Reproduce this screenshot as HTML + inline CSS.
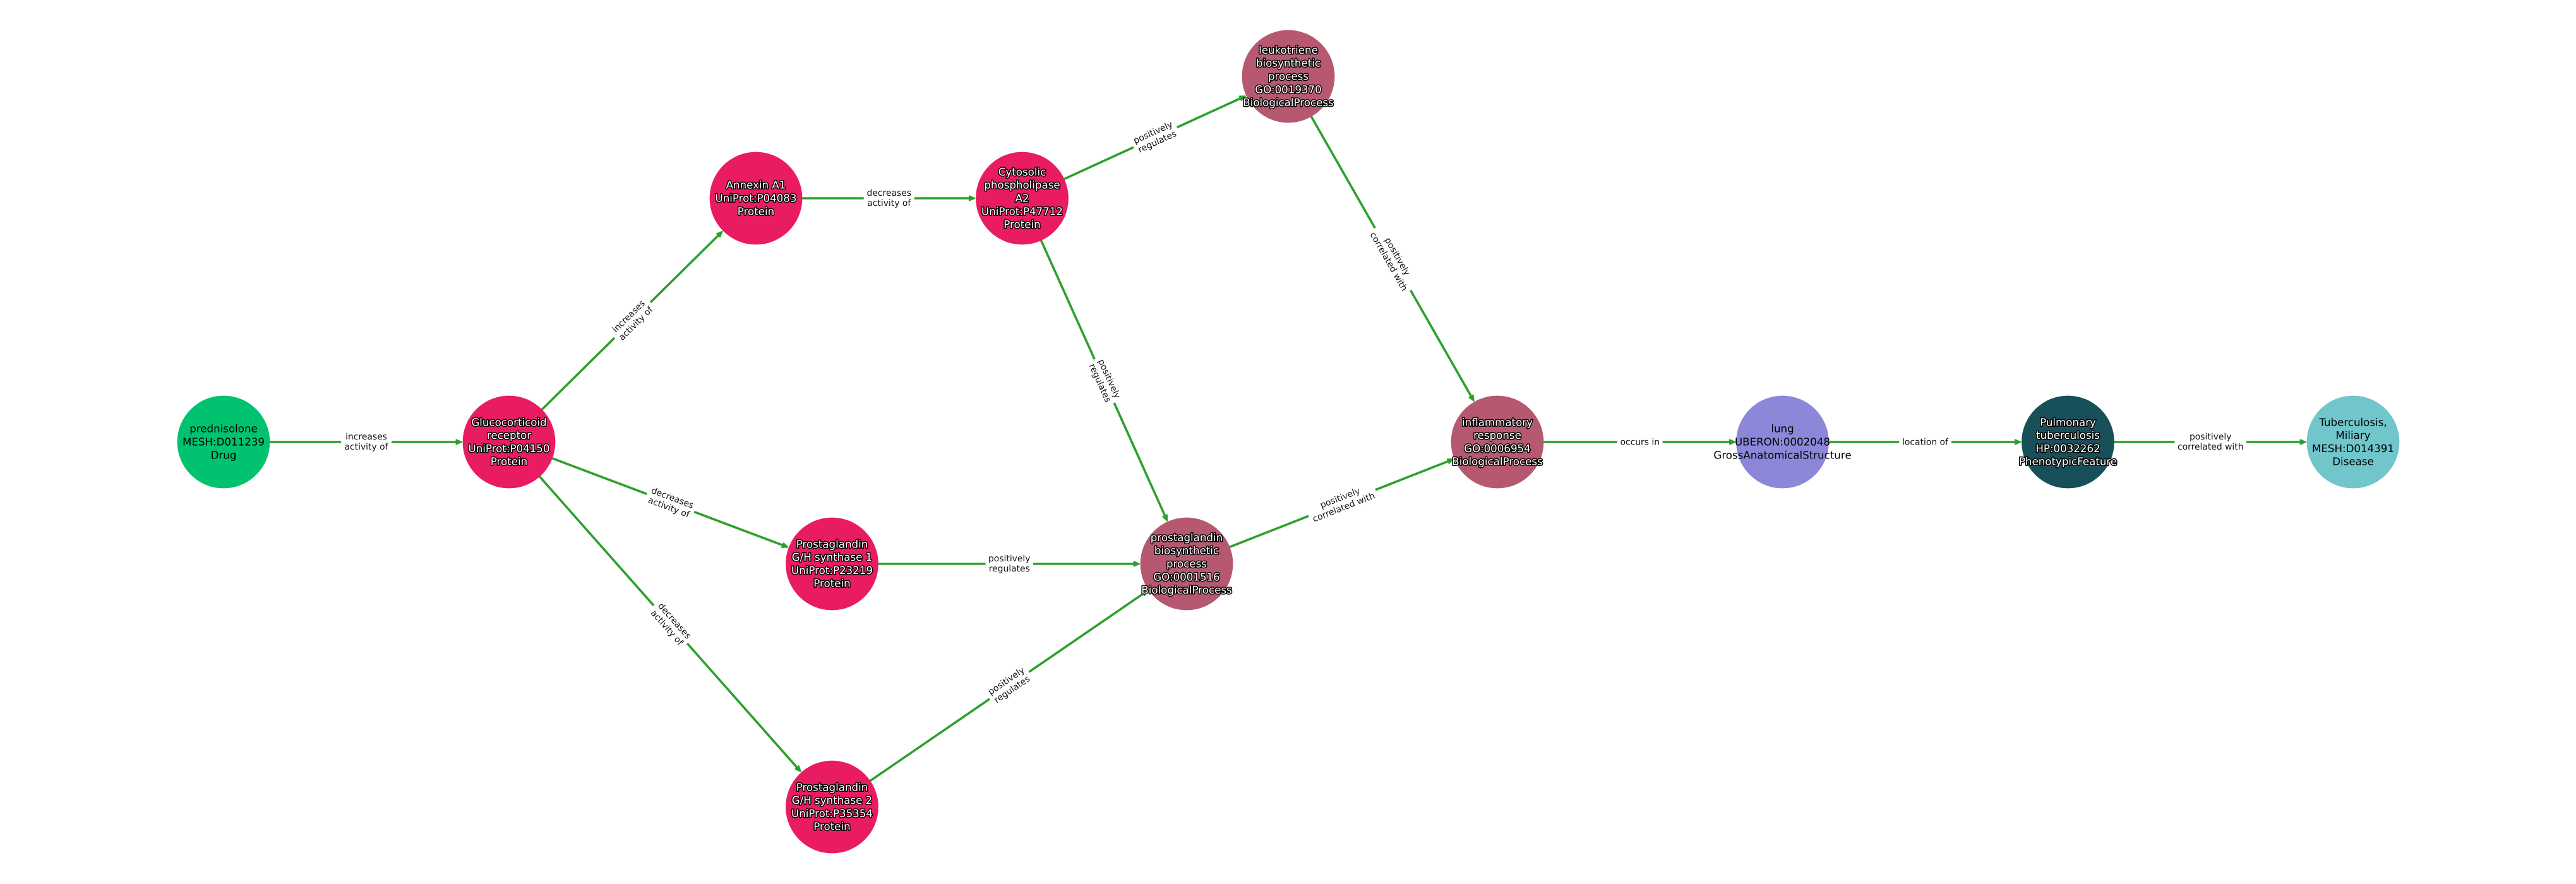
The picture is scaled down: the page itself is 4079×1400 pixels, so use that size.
<!DOCTYPE html>
<html>
<head>
<meta charset="utf-8">
<style>
html,body{margin:0;padding:0;background:#fff;width:4079px;height:1400px;overflow:hidden}
svg{display:block}
text{font-family:"DejaVu Sans","Liberation Sans",sans-serif;text-anchor:middle;text-rendering:geometricPrecision}
.e line{stroke:#2ca02c;stroke-width:3.6}
.e path{fill:#2ca02c;stroke:#2ca02c;stroke-width:2;stroke-linejoin:round}
.e rect{fill:#fff}
.e text{font-size:13.89px;fill:#111}
.n{font-size:16.67px;fill:#000}
.w{font-size:16.67px;fill:#fff;stroke:#000;stroke-width:3;paint-order:stroke;stroke-linejoin:round}
</style>
</head>
<body>
<svg width="4079" height="1400" viewBox="0 0 4079 1400" xmlns="http://www.w3.org/2000/svg">
<rect width="4079" height="1400" fill="#fff"/>

<!-- edges -->
<g class="e" transform="translate(354,700)"><line x1="0" x2="372" y1="0" y2="0"/><path transform="translate(378)" d="M-9.5 -3.6L-1 0L-9.5 3.6Z"/><g transform="translate(226)"><rect x="-40" y="-22" width="80" height="44"/><text y="-4">increases</text><text y="12">activity of</text></g></g>

<g class="e" transform="translate(806,700) rotate(-44.63)"><line x1="0" x2="469.4" y1="0" y2="0"/><path transform="translate(475.4)" d="M-9.5 -3.6L-1 0L-9.5 3.6Z"/><g transform="translate(274.7)"><rect x="-40" y="-22" width="80" height="44"/><text y="-4">increases</text><text y="12">activity of</text></g></g>

<g class="e" transform="translate(806,700) rotate(20.67)"><line x1="0" x2="466.7" y1="0" y2="0"/><path transform="translate(472.7)" d="M-9.5 -3.6L-1 0L-9.5 3.6Z"/><g transform="translate(273.35)"><rect x="-40" y="-22" width="80" height="44"/><text y="-4">decreases</text><text y="12">activity of</text></g></g>

<g class="e" transform="translate(806,700) rotate(48.5)"><line x1="0" x2="691.8" y1="0" y2="0"/><path transform="translate(697.8)" d="M-9.5 -3.6L-1 0L-9.5 3.6Z"/><g transform="translate(385.9)"><rect x="-40" y="-22" width="80" height="44"/><text y="-4">decreases</text><text y="12">activity of</text></g></g>

<g class="e" transform="translate(1197,314)"><line x1="0" x2="341.5" y1="0" y2="0"/><path transform="translate(347.5)" d="M-9.5 -3.6L-1 0L-9.5 3.6Z"/><g transform="translate(210.75)"><rect x="-40" y="-22" width="80" height="44"/><text y="-4">decreases</text><text y="12">activity of</text></g></g>

<g class="e" transform="translate(1618.5,314) rotate(-24.6)"><line x1="0" x2="383.6" y1="0" y2="0"/><path transform="translate(389.6)" d="M-9.5 -3.6L-1 0L-9.5 3.6Z"/><g transform="translate(231.8)"><rect x="-37.8" y="-22" width="75.6" height="44"/><text y="-4">positively</text><text y="12">regulates</text></g></g>

<g class="e" transform="translate(1618.5,314) rotate(65.78)"><line x1="0" x2="554.9" y1="0" y2="0"/><path transform="translate(560.9)" d="M-9.5 -3.6L-1 0L-9.5 3.6Z"/><g transform="translate(317.45)"><rect x="-37.8" y="-22" width="75.6" height="44"/><text y="-4">positively</text><text y="12">regulates</text></g></g>

<g class="e" transform="translate(2040,121) rotate(60.25)"><line x1="0" x2="586.9" y1="0" y2="0"/><path transform="translate(592.9)" d="M-9.5 -3.6L-1 0L-9.5 3.6Z"/><g transform="translate(333.45)"><rect x="-56.8" y="-22" width="113.6" height="44"/><text y="-4">positively</text><text y="12">correlated with</text></g></g>

<g class="e" transform="translate(1317.5,893)"><line x1="0" x2="481.5" y1="0" y2="0"/><path transform="translate(487.5)" d="M-9.5 -3.6L-1 0L-9.5 3.6Z"/><g transform="translate(280.75)"><rect x="-37.8" y="-22" width="75.6" height="44"/><text y="-4">positively</text><text y="12">regulates</text></g></g>

<g class="e" transform="translate(1317.5,1278) rotate(-34.43)"><line x1="0" x2="600.8" y1="0" y2="0"/><path transform="translate(606.8)" d="M-9.5 -3.6L-1 0L-9.5 3.6Z"/><g transform="translate(340.4)"><rect x="-37.8" y="-22" width="75.6" height="44"/><text y="-4">positively</text><text y="12">regulates</text></g></g>

<g class="e" transform="translate(1879,893) rotate(-21.42)"><line x1="0" x2="448.5" y1="0" y2="0"/><path transform="translate(454.5)" d="M-9.5 -3.6L-1 0L-9.5 3.6Z"/><g transform="translate(264.25)"><rect x="-56.8" y="-22" width="113.6" height="44"/><text y="-4">positively</text><text y="12">correlated with</text></g></g>

<g class="e" transform="translate(2371,700)"><line x1="0" x2="371.5" y1="0" y2="0"/><path transform="translate(377.5)" d="M-9.5 -3.6L-1 0L-9.5 3.6Z"/><g transform="translate(225.75)"><rect x="-35.9" y="-14" width="71.8" height="28"/><text y="4.5">occurs in</text></g></g>

<g class="e" transform="translate(2822.5,700)"><line x1="0" x2="372" y1="0" y2="0"/><path transform="translate(378)" d="M-9.5 -3.6L-1 0L-9.5 3.6Z"/><g transform="translate(226)"><rect x="-41.5" y="-14" width="83" height="28"/><text y="4.5">location of</text></g></g>

<g class="e" transform="translate(3274.5,700)"><line x1="0" x2="371.5" y1="0" y2="0"/><path transform="translate(377.5)" d="M-9.5 -3.6L-1 0L-9.5 3.6Z"/><g transform="translate(225.75)"><rect x="-56.8" y="-22" width="113.6" height="44"/><text y="-4">positively</text><text y="12">correlated with</text></g></g>

<!-- nodes -->
<circle cx="354" cy="700" r="73.4" fill="#00c26f"/>
<circle cx="806" cy="700" r="73.4" fill="#e91b63"/>
<circle cx="1197" cy="314" r="73.4" fill="#e91b63"/>
<circle cx="1618.5" cy="314" r="73.4" fill="#e91b63"/>
<circle cx="2040" cy="121" r="73.4" fill="#b55870"/>
<circle cx="1317.5" cy="893" r="73.4" fill="#e91b63"/>
<circle cx="1879" cy="893" r="73.4" fill="#b55870"/>
<circle cx="1317.5" cy="1278" r="73.4" fill="#e91b63"/>
<circle cx="2371" cy="700" r="73.4" fill="#b55870"/>
<circle cx="2822.5" cy="700" r="73.4" fill="#8c87d8"/>
<circle cx="3274.5" cy="700" r="73.4" fill="#18505a"/>
<circle cx="3726" cy="700" r="73.4" fill="#70c6cb"/>

<!-- node labels -->
<text class="n" x="354"><tspan x="354" y="684.7">prednisolone</tspan><tspan x="354" y="705.5">MESH:D011239</tspan><tspan x="354" y="726.3">Drug</tspan></text>

<text class="w" x="806"><tspan x="806" y="674.3">Glucocorticoid</tspan><tspan x="806" y="695.1">receptor</tspan><tspan x="806" y="715.9">UniProt:P04150</tspan><tspan x="806" y="736.7">Protein</tspan></text>

<text class="w" x="1197"><tspan x="1197" y="298.7">Annexin A1</tspan><tspan x="1197" y="319.5">UniProt:P04083</tspan><tspan x="1197" y="340.3">Protein</tspan></text>

<text class="w" x="1618.5"><tspan x="1618.5" y="277.9">Cytosolic</tspan><tspan x="1618.5" y="298.7">phospholipase</tspan><tspan x="1618.5" y="319.5">A2</tspan><tspan x="1618.5" y="340.3">UniProt:P47712</tspan><tspan x="1618.5" y="361.1">Protein</tspan></text>

<text class="w" x="2040"><tspan x="2040" y="84.9">leukotriene</tspan><tspan x="2040" y="105.7">biosynthetic</tspan><tspan x="2040" y="126.5">process</tspan><tspan x="2040" y="147.3">GO:0019370</tspan><tspan x="2040" y="168.1">BiologicalProcess</tspan></text>

<text class="w" x="1317.5"><tspan x="1317.5" y="867.3">Prostaglandin</tspan><tspan x="1317.5" y="888.1">G/H synthase 1</tspan><tspan x="1317.5" y="908.9">UniProt:P23219</tspan><tspan x="1317.5" y="929.7">Protein</tspan></text>

<text class="w" x="1879"><tspan x="1879" y="856.9">prostaglandin</tspan><tspan x="1879" y="877.7">biosynthetic</tspan><tspan x="1879" y="898.5">process</tspan><tspan x="1879" y="919.3">GO:0001516</tspan><tspan x="1879" y="940.1">BiologicalProcess</tspan></text>

<text class="w" x="1317.5"><tspan x="1317.5" y="1252.3">Prostaglandin</tspan><tspan x="1317.5" y="1273.1">G/H synthase 2</tspan><tspan x="1317.5" y="1293.9">UniProt:P35354</tspan><tspan x="1317.5" y="1314.7">Protein</tspan></text>

<text class="w" x="2371"><tspan x="2371" y="674.3">inflammatory</tspan><tspan x="2371" y="695.1">response</tspan><tspan x="2371" y="715.9">GO:0006954</tspan><tspan x="2371" y="736.7">BiologicalProcess</tspan></text>

<text class="n" x="2822.5"><tspan x="2822.5" y="684.7">lung</tspan><tspan x="2822.5" y="705.5">UBERON:0002048</tspan><tspan x="2822.5" y="726.3">GrossAnatomicalStructure</tspan></text>

<text class="w" x="3274.5"><tspan x="3274.5" y="674.3">Pulmonary</tspan><tspan x="3274.5" y="695.1">tuberculosis</tspan><tspan x="3274.5" y="715.9">HP:0032262</tspan><tspan x="3274.5" y="736.7">PhenotypicFeature</tspan></text>

<text class="n" x="3726"><tspan x="3726" y="674.3">Tuberculosis,</tspan><tspan x="3726" y="695.1">Miliary</tspan><tspan x="3726" y="715.9">MESH:D014391</tspan><tspan x="3726" y="736.7">Disease</tspan></text>
</svg>
</body>
</html>
